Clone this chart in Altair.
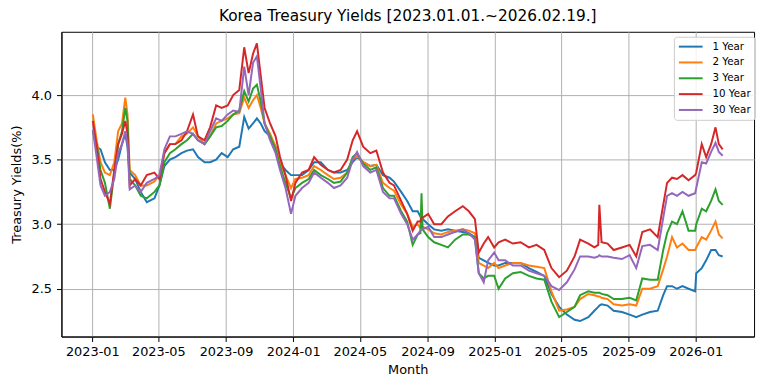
import altair as alt
import pandas as pd

dates = [
    "2023-01-02", "2023-01-09", "2023-01-16", "2023-01-24", "2023-02-02", "2023-02-10",
    "2023-02-17", "2023-02-24", "2023-03-02", "2023-03-06", "2023-03-10", "2023-03-20",
    "2023-03-30", "2023-04-10", "2023-04-24", "2023-05-03", "2023-05-12", "2023-05-22",
    "2023-06-01", "2023-06-12", "2023-06-22", "2023-07-03", "2023-07-12", "2023-07-24",
    "2023-08-03", "2023-08-14", "2023-08-24", "2023-09-04", "2023-09-14", "2023-09-25",
    "2023-10-04", "2023-10-12", "2023-10-20", "2023-10-27", "2023-11-03", "2023-11-10",
    "2023-11-20", "2023-11-30", "2023-12-08", "2023-12-18", "2023-12-28",
    "2024-01-05", "2024-01-17", "2024-01-29", "2024-02-08", "2024-02-20", "2024-03-04",
    "2024-03-15", "2024-03-27", "2024-04-08", "2024-04-18", "2024-04-26", "2024-05-07",
    "2024-05-20", "2024-05-31", "2024-06-12", "2024-06-24", "2024-07-02", "2024-07-15",
    "2024-07-26", "2024-08-05", "2024-08-14", "2024-08-19", "2024-08-21", "2024-08-23",
    "2024-09-02", "2024-09-13", "2024-09-26", "2024-10-08", "2024-10-21", "2024-11-04",
    "2024-11-15", "2024-11-26", "2024-12-03", "2024-12-12", "2024-12-20", "2024-12-31",
    "2025-01-08", "2025-01-20", "2025-02-03", "2025-02-17", "2025-03-04", "2025-03-18",
    "2025-04-01", "2025-04-14", "2025-04-28", "2025-05-12", "2025-05-26", "2025-06-05",
    "2025-06-20", "2025-07-01", "2025-07-08", "2025-07-10", "2025-07-14", "2025-07-25",
    "2025-08-05", "2025-08-20", "2025-09-03", "2025-09-15", "2025-09-26", "2025-10-10",
    "2025-10-24", "2025-11-03", "2025-11-10", "2025-11-19", "2025-11-28", "2025-12-08",
    "2025-12-19", "2025-12-31", "2026-01-02", "2026-01-12", "2026-01-20", "2026-01-29",
    "2026-02-06", "2026-02-12", "2026-02-19",
]

y1 = [
    3.73, 3.60, 3.58, 3.48, 3.42, 3.42, 3.50, 3.62, 3.70, 3.60, 3.40, 3.35,
    3.25, 3.17, 3.20, 3.30, 3.45, 3.50, 3.52, 3.55, 3.57, 3.58, 3.52, 3.48,
    3.48, 3.50, 3.55, 3.52, 3.58, 3.60, 3.83, 3.74, 3.78, 3.82, 3.78, 3.72,
    3.68, 3.60, 3.47, 3.42, 3.38,
    3.38, 3.38, 3.42, 3.48, 3.48, 3.42, 3.40, 3.40, 3.42, 3.48, 3.52, 3.48,
    3.45, 3.46, 3.38, 3.36, 3.33, 3.25, 3.18, 3.10, 3.10, 3.06, 3.05, 3.04,
    3.00, 2.96, 2.95, 2.96, 2.95, 2.94, 2.93, 2.90, 2.74, 2.72, 2.70, 2.68,
    2.68, 2.70, 2.70, 2.70, 2.66, 2.63, 2.60, 2.46, 2.36, 2.30, 2.26, 2.25,
    2.28, 2.33, 2.36, 2.37, 2.38, 2.37, 2.33, 2.32, 2.30, 2.28, 2.30, 2.32,
    2.33, 2.45, 2.52, 2.52, 2.50, 2.52, 2.50, 2.48, 2.62, 2.66, 2.72, 2.80,
    2.80, 2.76, 2.75,
]

y2 = [
    3.85, 3.65, 3.48, 3.40, 3.38, 3.48, 3.72, 3.78, 3.98, 3.85, 3.42, 3.38,
    3.30, 3.30, 3.33, 3.38, 3.55, 3.62, 3.62, 3.68, 3.70, 3.75, 3.68, 3.62,
    3.68, 3.78, 3.80, 3.82, 3.85, 3.86, 3.98, 3.90, 3.96, 4.00, 3.90, 3.78,
    3.70, 3.60, 3.48, 3.38, 3.28,
    3.35, 3.36, 3.38, 3.45, 3.42, 3.38, 3.35, 3.36, 3.40, 3.50, 3.53, 3.48,
    3.45, 3.46, 3.32, 3.28, 3.26, 3.15, 3.08, 2.98, 3.00, 2.97, 2.98, 2.98,
    2.96, 2.93, 2.92, 2.94, 2.95, 2.96, 2.95, 2.93, 2.70, 2.68, 2.66, 2.70,
    2.66, 2.68, 2.70, 2.70, 2.68, 2.67, 2.66, 2.48, 2.33, 2.34, 2.36, 2.42,
    2.46, 2.45, 2.44, 2.44, 2.43, 2.42, 2.38, 2.37, 2.38, 2.37, 2.50, 2.50,
    2.52, 2.65, 2.75, 2.90, 2.82, 2.85, 2.80, 2.80, 2.82, 2.90, 2.88, 2.95,
    3.02, 2.92, 2.89,
]

y3 = [
    3.72, 3.62, 3.42, 3.32, 3.12, 3.40, 3.62, 3.72, 3.90, 3.80, 3.35, 3.30,
    3.22, 3.20, 3.25, 3.30, 3.48, 3.55, 3.58, 3.62, 3.65, 3.70, 3.65, 3.62,
    3.68, 3.75, 3.76, 3.80, 3.85, 3.88, 4.03, 3.95, 4.05, 4.08, 3.95, 3.78,
    3.68, 3.58, 3.45, 3.32, 3.20,
    3.28, 3.32, 3.35, 3.42, 3.38, 3.35, 3.32, 3.33, 3.40, 3.52, 3.55, 3.47,
    3.42, 3.44, 3.28, 3.22, 3.22, 3.10, 3.02, 2.84, 2.92, 2.93, 3.24, 2.96,
    2.90, 2.86, 2.84, 2.82, 2.88, 2.92, 2.92, 2.90, 2.62, 2.58, 2.60, 2.60,
    2.50, 2.58, 2.62, 2.63, 2.60, 2.58, 2.57, 2.40, 2.28, 2.32, 2.36, 2.45,
    2.48, 2.47, 2.47, 2.47, 2.46, 2.45, 2.42, 2.42, 2.43, 2.41, 2.58, 2.57,
    2.57, 2.80, 2.93, 3.02, 3.00, 3.10, 2.95, 2.95, 3.00, 3.12, 3.10, 3.18,
    3.27, 3.18, 3.15,
]

y10 = [
    3.80, 3.60, 3.35, 3.25, 3.16, 3.42, 3.62, 3.70, 3.80, 3.70, 3.30, 3.35,
    3.30, 3.38, 3.40, 3.35, 3.55, 3.62, 3.62, 3.65, 3.72, 3.85, 3.68, 3.65,
    3.75, 3.92, 3.90, 3.92, 4.00, 4.04, 4.37, 4.17, 4.32, 4.40, 4.15, 3.90,
    3.78, 3.68, 3.52, 3.38, 3.18,
    3.32, 3.40, 3.42, 3.52, 3.46, 3.42, 3.40, 3.42, 3.50, 3.65, 3.72, 3.60,
    3.55, 3.57, 3.40, 3.32, 3.30, 3.18, 3.08, 2.95, 3.02, 3.02, 3.05, 3.05,
    3.08, 3.00, 3.00, 3.06, 3.10, 3.14, 3.10, 3.04, 2.78, 2.85, 2.90, 2.82,
    2.86, 2.88, 2.85, 2.86, 2.82, 2.84, 2.80, 2.66, 2.59, 2.64, 2.75, 2.88,
    2.85, 2.82, 2.84, 3.15, 2.86, 2.85, 2.80, 2.82, 2.84, 2.75, 2.94, 2.96,
    2.90, 3.15, 3.32, 3.36, 3.35, 3.38, 3.34, 3.38, 3.40, 3.62, 3.52, 3.62,
    3.75, 3.62, 3.58,
]

y30 = [
    3.73, 3.52, 3.30, 3.22, 3.25, 3.35, 3.55, 3.62, 3.72, 3.62, 3.27, 3.30,
    3.25, 3.32, 3.35, 3.38, 3.58, 3.68, 3.68, 3.70, 3.72, 3.70, 3.65, 3.62,
    3.72, 3.82, 3.80, 3.85, 3.88, 3.87, 4.22, 4.00, 4.25, 4.30, 4.05, 3.78,
    3.65, 3.55, 3.42, 3.28, 3.08,
    3.22, 3.28, 3.32, 3.40, 3.36, 3.32, 3.28, 3.30, 3.36, 3.50, 3.56, 3.45,
    3.40, 3.42, 3.25, 3.20, 3.20, 3.08, 3.00, 2.88, 2.92, 2.95, 2.96, 2.96,
    2.98, 2.90, 2.90, 2.92, 2.94, 2.96, 2.93, 2.88, 2.62, 2.55, 2.72, 2.78,
    2.72, 2.72, 2.68, 2.68, 2.64, 2.62, 2.60, 2.52, 2.49, 2.55, 2.65, 2.75,
    2.75, 2.74, 2.75, 2.76, 2.75, 2.75, 2.74, 2.73, 2.76, 2.66, 2.83, 2.84,
    2.80, 3.05, 3.22, 3.24, 3.22, 3.25, 3.22, 3.24, 3.28, 3.48, 3.47, 3.56,
    3.63, 3.56, 3.53,
]

series = ["1 Year", "2 Year", "3 Year", "10 Year", "30 Year"]
colors = ["#1f77b4", "#ff7f0e", "#2ca02c", "#d62728", "#9467bd"]
tick_months = [(2023, 1), (2023, 5), (2023, 9), (2024, 1), (2024, 5), (2024, 9),
               (2025, 1), (2025, 5), (2025, 9), (2026, 1)]
y_ticks = [2.5, 3.0, 3.5, 4.0]

rows = []
for i, (name, vals) in enumerate(zip(series, [y1, y2, y3, y10, y30])):
    for d, v in zip(dates, vals):
        rows.append({"date": d, "series": name, "value": v, "k": i})
df = pd.DataFrame(rows)

font = "DejaVu Sans"

x_axis = alt.Axis(
    values=[alt.DateTime(year=y, month=m, date=1, utc=True) for y, m in tick_months],
    format="%Y-%m", title="Month", labelFlush=False, labelOverlap=False,
    tickSize=5, labelPadding=4, titlePadding=5,
)
y_axis = alt.Axis(
    values=y_ticks, format=".1f", title="Treasury Yields(%)",
    tickSize=5, labelPadding=5, titlePadding=8,
)

chart = alt.Chart(df).mark_line(strokeWidth=2, clip=True).encode(
    x=alt.X("date:T", axis=x_axis,
            scale=alt.Scale(type="utc", domain=[
                alt.DateTime(year=2022, month=11, date=6, utc=True),
                alt.DateTime(year=2026, month=4, date=17, utc=True)])),
    y=alt.Y("value:Q", axis=y_axis,
            scale=alt.Scale(domain=[2.13, 4.49], nice=False, zero=False)),
    color=alt.Color("series:N", sort=series,
                    scale=alt.Scale(domain=series, range=colors),
                    legend=alt.Legend(
                        title=None, orient="none", legendX=619, legendY=5,
                        symbolType="M-1,0H3.8", symbolSize=100, symbolStrokeWidth=2,
                        labelFontSize=10.4, labelFont=font, labelColor="black",
                        rowPadding=4, padding=4, labelOffset=23,
                        strokeColor="#cccccc", fillColor="rgba(255,255,255,0.8)",
                        cornerRadius=3)),
    detail="k:O",
).properties(
    width=700, height=308,
    title=alt.TitleParams("Korea Treasury Yields [2023.01.01.~2026.02.19.]",
                          fontSize=15.5, font=font, fontWeight="normal",
                          color="black", offset=7, anchor="middle"),
    autosize=alt.AutoSizeParams(type="none"),
    padding={"left": 54, "top": 22, "right": 6, "bottom": 53},
).configure_axis(
    grid=True, gridColor="#b0b0b0", gridWidth=1,
    domainColor="black", tickColor="black",
    labelFont=font, labelFontSize=13, labelColor="black",
    titleFont=font, titleFontSize=13, titleFontWeight="normal", titleColor="black",
).configure_view(stroke="black", strokeWidth=1)

chart.save("out.html", embed_options={"renderer": "svg", "actions": False})
